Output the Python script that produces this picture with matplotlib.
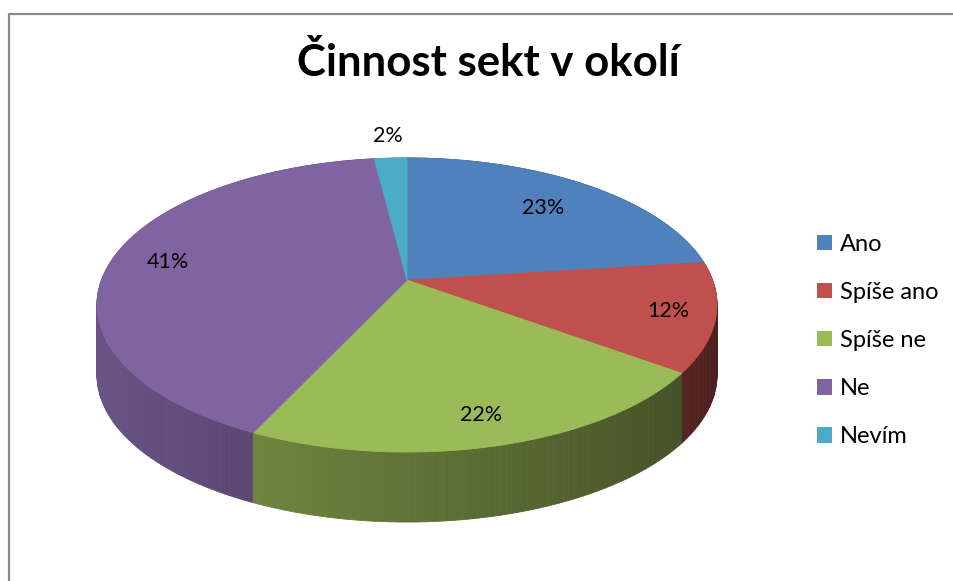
import numpy as np
import matplotlib
matplotlib.use('Agg')
import matplotlib.pyplot as plt
from matplotlib.patches import Polygon, Patch

plt.rcParams['font.family'] = ['Lato', 'DejaVu Sans']

# data
categories = ['Ano', 'Spíše ano', 'Spíše ne', 'Ne', 'Nevím']
values = [23, 12, 22, 41, 2]
colors = ['#4F81BD', '#C0504D', '#9BBB59', '#8064A2', '#4BACC6']
title = 'Činnost sekt v okolí'

# kde sedi popisky (podil polomeru)
label_dist = [0.74, 0.85, 0.84, 0.81, 1.22]

# geometrie "3D" kolace (pixely)
cx, cy = 407, 280
sx, sy = 305.5, 142.8
k = 0.17
depth = 70


def proj(r, theta):
    u = r * np.sin(theta)
    v = r * np.cos(theta)
    d = 1 + k * v
    return cx + sx * u / d, cy - sy * v / d


def shade(c, f):
    rgb = np.array(matplotlib.colors.to_rgb(c))
    return tuple(rgb * f)


fig = plt.figure(figsize=(9.54, 5.81), dpi=100)
ax = fig.add_axes([0, 0, 1, 1])
ax.set_xlim(0, 954)
ax.set_ylim(581, 0)
ax.axis('off')

# ramecek grafu
ax.plot([9.5, 9.5, 960], [590, 13.5, 13.5], color='#8a8a8a', lw=1.6, solid_capstyle='butt')

total = sum(values)
bounds = np.concatenate([[0], np.cumsum(values)]) / total * 2 * np.pi

# boky
quads = []
for i in range(len(values)):
    t = np.linspace(bounds[i], bounds[i + 1], max(3, int(values[i] * 4)))
    for a, b in zip(t[:-1], t[1:]):
        m = (a + b) / 2
        xa, ya = proj(1, a)
        xb, yb = proj(1, b)
        f = 0.62 - 0.22 * np.sin(m)
        quads.append((np.cos(m), [(xa, ya), (xb, yb), (xb, yb + depth), (xa, ya + depth)],
                      shade(colors[i], f)))
quads.sort(key=lambda q: -q[0])
for _, pts, col in quads:
    ax.add_patch(Polygon(pts, closed=True, facecolor=col, edgecolor=col, lw=0.6))

# horni plocha
for i in range(len(values)):
    t = np.linspace(bounds[i], bounds[i + 1], max(3, int(values[i] * 4)))
    pts = [(cx, cy)] + [proj(1, a) for a in t]
    ax.add_patch(Polygon(pts, closed=True, facecolor=colors[i], edgecolor=colors[i], lw=0.6))

# popisky
for i in range(len(values)):
    m = (bounds[i] + bounds[i + 1]) / 2
    x, y = proj(label_dist[i], m)
    ax.text(x, y, '{0}%'.format(round(values[i] * 100 / total)), ha='center', va='center',
            fontsize=15.5, color='black')

ax.text(488, 63, title, ha='center', va='center', fontsize=31.5, fontweight='bold', color='black')

handles = [Patch(facecolor=c, edgecolor='none') for c in colors]
fig.legend(handles, categories, loc='center left', bbox_to_anchor=(817 / 954, 1 - 340.5 / 581),
           frameon=False, fontsize=17, handlelength=0.635, handleheight=0.635,
           handletextpad=0.34, labelspacing=1.15, borderpad=0, borderaxespad=0)

fig.savefig('out.png', dpi=100)
